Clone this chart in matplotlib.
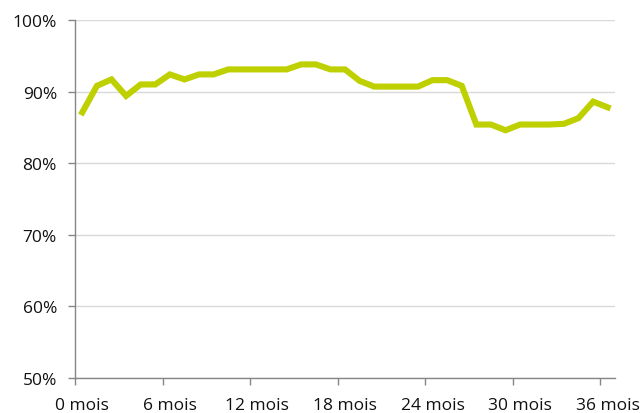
import matplotlib
matplotlib.use("Agg")
import matplotlib.pyplot as plt
from matplotlib.ticker import FixedLocator

months = list(range(37))
values = [87.1, 90.8, 91.7, 89.4, 91.0, 91.0, 92.4, 91.7, 92.4, 92.4,
          93.1, 93.1, 93.1, 93.1, 93.1, 93.8, 93.8, 93.1, 93.1, 91.5,
          90.7, 90.7, 90.7, 90.7, 91.6, 91.6, 90.8, 85.4, 85.4, 84.6,
          85.4, 85.4, 85.4, 85.5, 86.3, 88.6, 87.8]
x_label_pos = [0, 6, 12, 18, 24, 30, 36]
x_labels = ["0 mois", "6 mois", "12 mois", "18 mois", "24 mois", "30 mois", "36 mois"]
y_ticks = [50, 60, 70, 80, 90, 100]
y_labels = ["50%", "60%", "70%", "80%", "90%", "100%"]

plt.rcParams['font.family'] = ['Open Sans', 'DejaVu Sans']
fig = plt.figure(figsize=(6.44, 4.14), dpi=100)
ax = fig.add_axes([75/644, 1-379/414, 540/644, 358/414])

ax.plot(months, values, color="#BFD000", lw=4.4, solid_joinstyle="miter", zorder=3)

ax.set_xlim(-0.5, 36.5)
ax.set_ylim(50, 100)
ax.set_yticks(y_ticks)
ax.set_yticklabels(y_labels, fontsize=12.5, color="#111111")
ax.set_xticks(x_label_pos)
ax.set_xticklabels(x_labels, fontsize=12.5, color="#111111")
ax.xaxis.set_minor_locator(FixedLocator([-0.5 + 6*k for k in range(7)]))
ax.tick_params(axis='x', which='major', length=0, pad=14)
ax.tick_params(axis='x', which='minor', length=5, width=1, color="#868686", direction='out')
ax.tick_params(axis='y', length=5, width=1, color="#868686", pad=8)

ax.grid(axis='y', color="#d9d9d9", lw=1)
ax.set_axisbelow(True)
for s in ['top', 'right']:
    ax.spines[s].set_visible(False)
for s in ['left', 'bottom']:
    ax.spines[s].set_color("#868686")
    ax.spines[s].set_linewidth(1)

fig.savefig("out.png", dpi=100)
